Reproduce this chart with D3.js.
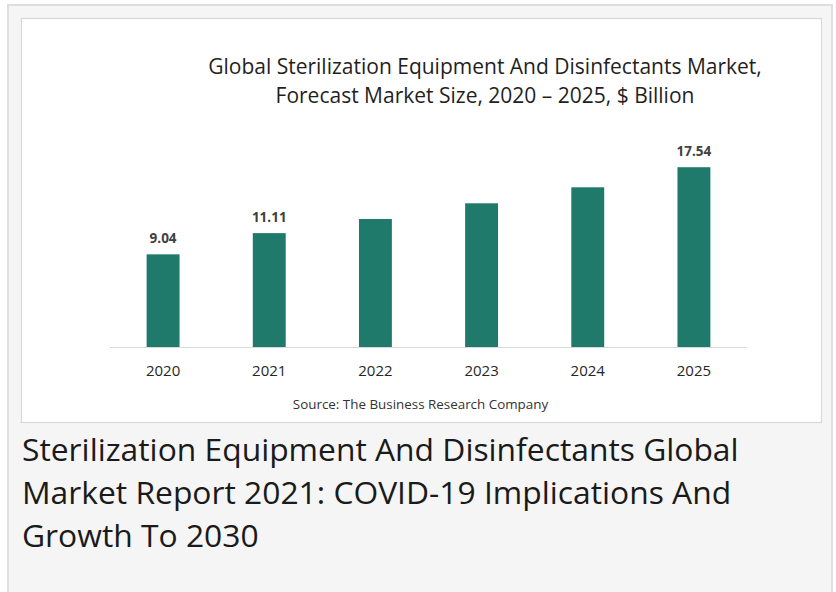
<!DOCTYPE html>
<html>
<head>
<meta charset="utf-8">
<script src="https://cdn.jsdelivr.net/npm/d3@7"></script>
<style>
  html, body { margin: 0; padding: 0; background: #ffffff; }
  svg { display: block; }
</style>
</head>
<body>
<svg id="chart" width="836" height="592"></svg>
<script>
const years = ["2020", "2021", "2022", "2023", "2024", "2025"];
const values = [9.04, 11.11, 12.49, 14.02, 15.58, 17.54];
const labelShown = [true, true, false, false, false, true];
const titleLines = ["Global Sterilization Equipment And Disinfectants Market,", "Forecast Market Size, 2020 \u2013 2025, $ Billion"];
const sourceText = "Source: The Business Research Company";
const headingLines = ["Sterilization Equipment And Disinfectants Global", "Market Report 2021: COVID-19 Implications And", "Growth To 2030"];

const svg = d3.select("#chart");
const font = "'Open Sans', 'Noto Sans', sans-serif";

// outer panel
svg.append("rect").attr("x", 8).attr("y", 5).attr("width", 824).attr("height", 600)
  .attr("fill", "#f5f5f5").attr("stroke", "#dedede").attr("stroke-width", 2);
// inner white card
svg.append("rect").attr("x", 21.5).attr("y", 18.5).attr("width", 800).attr("height", 404)
  .attr("fill", "#ffffff").attr("stroke", "#d9d9d9").attr("stroke-width", 1.2);

const baseY = 347;
const x = d3.scaleBand().domain(years).range([110, 747]).paddingInner(0.69).paddingOuter(0.345);
const y = d3.scaleLinear().domain([0, 20]).range([baseY, baseY - 205]);

// title
svg.append("g").selectAll("text").data(titleLines).join("text")
  .attr("x", 485).attr("y", (d, i) => 74 + i * 29)
  .attr("text-anchor", "middle").attr("font-family", font).attr("font-size", 21)
  .attr("fill", "#1f1f1f").text(d => d);

// bars
svg.append("g").selectAll("rect").data(years).join("rect")
  .attr("x", d => x(d)).attr("width", x.bandwidth())
  .attr("y", (d, i) => y(values[i])).attr("height", (d, i) => baseY - y(values[i]))
  .attr("fill", "#1f7a6b");

// axis line
svg.append("line").attr("x1", 110).attr("x2", 747).attr("y1", baseY + 0.5).attr("y2", baseY + 0.5)
  .attr("stroke", "#d9d9d9").attr("stroke-width", 1);

// data labels
svg.append("g").selectAll("text").data(years.filter((d, i) => labelShown[i])).join("text")
  .attr("x", d => x(d) + x.bandwidth() / 2)
  .attr("y", d => y(values[years.indexOf(d)]) - 11)
  .attr("text-anchor", "middle").attr("font-family", font).attr("font-size", 13.5)
  .attr("font-weight", "bold").attr("fill", "#404040")
  .text(d => values[years.indexOf(d)].toFixed(2));

// x tick labels
const xAxis = d3.axisBottom(x).tickSize(0).tickPadding(0);
const gx = svg.append("g").attr("transform", `translate(0, ${baseY})`).call(xAxis);
gx.select(".domain").remove();
gx.selectAll("text").attr("y", 29).attr("dy", 0)
  .attr("font-family", font).attr("font-size", 15).attr("fill", "#262626");

// source
svg.append("text").attr("x", 420.5).attr("y", 409)
  .attr("text-anchor", "middle").attr("font-family", font).attr("font-size", 13.4)
  .attr("fill", "#333333").text(sourceText);

// heading
svg.append("g").selectAll("text").data(headingLines).join("text")
  .attr("x", 22).attr("y", (d, i) => 461 + i * 43)
  .attr("font-family", font).attr("font-size", 31.8)
  .attr("fill", "#1a1a1a").text(d => d);
</script>
</body>
</html>
